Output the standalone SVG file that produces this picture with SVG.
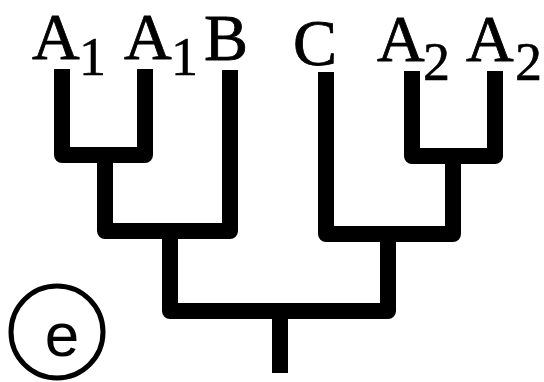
<svg xmlns="http://www.w3.org/2000/svg" width="544" height="382" viewBox="0 0 544 382">
<style>
.br{fill:none;stroke:#000;stroke-width:16;stroke-linejoin:round;stroke-linecap:butt}
.lb{font-family:"Liberation Serif","Times New Roman",serif;font-size:66px;fill:#000;stroke:#000;stroke-width:0.8}
.sb{font-family:"Liberation Serif","Times New Roman",serif;font-size:54px;fill:#000;stroke:#000;stroke-width:0.6}
</style>
<rect width="544" height="382" fill="#fff"/>
<g id="connectors">
<path class="br" d="M62,69 V155 H145 V69"/>
<path class="br" d="M105,155 V231 H230 V70"/>
<path class="br" d="M170,231 V311 H388 V234"/>
<path class="br" d="M326,72 V234 H453 V156"/>
<path class="br" d="M412,71 V156 H495 V71"/>
<path class="br" d="M280,311 V373"/>
</g>
<g id="A1a"><text class="lb" x="32" y="59">A</text><text class="sb" x="79" y="75">1</text></g>
<g id="A1b"><text class="lb" x="124" y="59">A</text><text class="sb" x="171" y="75">1</text></g>
<g id="B"><text class="lb" x="204" y="60">B</text></g>
<g id="C"><text class="lb" x="293" y="65">C</text></g>
<g id="A2a"><text class="lb" x="377" y="61">A</text><text class="sb" x="423" y="80">2</text></g>
<g id="A2b"><text class="lb" x="466" y="61">A</text><text class="sb" x="515" y="80">2</text></g>
<g id="label-e">
<circle cx="57" cy="332" r="46" fill="none" stroke="#000" stroke-width="5"/>
<text x="62" y="356" text-anchor="middle" font-family="Liberation Sans,Arial,sans-serif" font-size="62">e</text>
</g>
</svg>
